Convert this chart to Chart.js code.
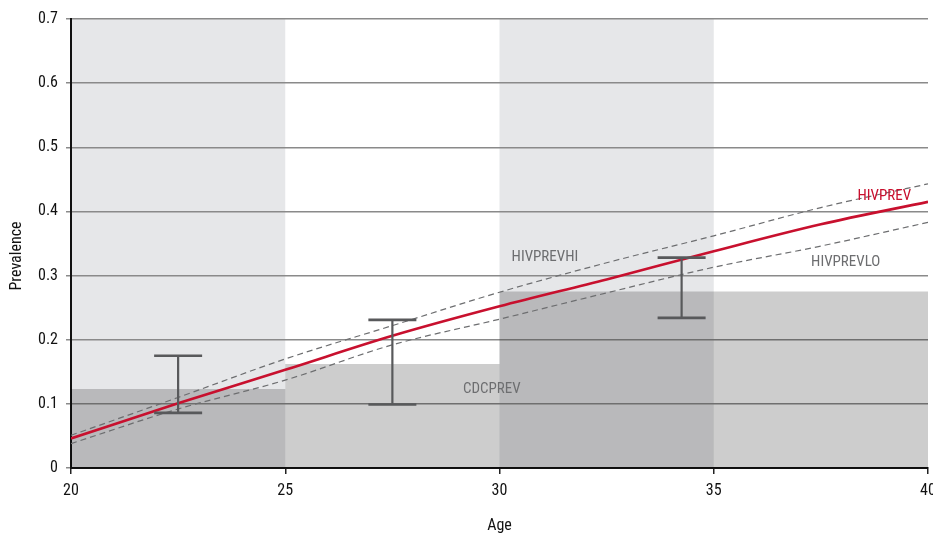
<!DOCTYPE html>
<html>
<head>
<meta charset="utf-8">
<script src="https://cdn.jsdelivr.net/npm/chart.js@4/dist/chart.umd.min.js"></script>
<style>
  html, body { margin: 0; padding: 0; background: #fff; }
  #wrap { width: 933px; height: 534px; }
</style>
</head>
<body>
<div id="wrap"><canvas id="prevChart" width="933" height="534"></canvas></div>
<script>
// model curves, every 2.5 years
const ages = [20, 22.5, 25, 27.5, 30, 32.5, 35, 37.5, 40];
const hivPrev = [0.046, 0.101, 0.153, 0.206, 0.252, 0.294, 0.338, 0.380, 0.415];
const hivPrevHi = [0.051, 0.110, 0.170, 0.222, 0.274, 0.320, 0.362, 0.406, 0.443];
const hivPrevLo = [0.038, 0.092, 0.137, 0.192, 0.232, 0.273, 0.313, 0.346, 0.383];

// CDC prevalence by 5-year age group
const cdcGroupStart = [20, 25, 30, 35];
const cdcGroupEnd = 40;
const cdcPrev = [0.123, 0.162, 0.275, 0.275];

// survey estimates with intervals
const surveyAge = [22.5, 27.5, 34.25];
const surveyLo = [0.086, 0.099, 0.234];
const surveyHi = [0.175, 0.231, 0.328];

// shaded age bands
const bandStart = [20, 30];
const bandEnd = [25, 35];

const yTicks = [0, 0.1, 0.2, 0.3, 0.4, 0.5, 0.6, 0.7];
const xTicks = [20, 25, 30, 35, 40];

const FONT = "'Liberation Sans Narrow', 'Roboto Condensed', 'Arial Narrow', Roboto, sans-serif";
const RED = '#c8102e';
const DARK = '#58595b';
const GREY_TEXT = '#6d6e70';

Chart.defaults.font.family = FONT;
Chart.defaults.font.size = 16;
Chart.defaults.color = '#111';

const toPoints = (xs, ys) => xs.map((x, i) => ({ x: x, y: ys[i] }));

// step outline for the CDC bars: each group keeps its value up to the next edge
const cdcPoints = [];
cdcGroupStart.forEach((s, i) => {
  const e = i + 1 < cdcGroupStart.length ? cdcGroupStart[i + 1] : cdcGroupEnd;
  cdcPoints.push({ x: s, y: cdcPrev[i] });
  cdcPoints.push({ x: e, y: cdcPrev[i] });
});

const bandsPlugin = {
  id: 'bands',
  beforeDraw(chart) {
    const { ctx, chartArea, scales } = chart;
    ctx.save();
    ctx.fillStyle = '#e6e7e9';
    bandStart.forEach((s, i) => {
      const x0 = scales.x.getPixelForValue(s);
      const x1 = scales.x.getPixelForValue(bandEnd[i]);
      ctx.fillRect(x0, chartArea.top, x1 - x0, chartArea.bottom - chartArea.top);
    });
    ctx.restore();
  }
};

const errorBarsPlugin = {
  id: 'errorBars',
  afterDatasetsDraw(chart) {
    const { ctx, scales } = chart;
    ctx.save();
    ctx.strokeStyle = DARK;
    surveyAge.forEach((a, i) => {
      const x = scales.x.getPixelForValue(a);
      const yLo = scales.y.getPixelForValue(surveyLo[i]);
      const yHi = scales.y.getPixelForValue(surveyHi[i]);
      ctx.lineWidth = 2.2;
      ctx.beginPath();
      ctx.moveTo(x, yLo);
      ctx.lineTo(x, yHi);
      ctx.stroke();
      ctx.lineWidth = 2.6;
      ctx.beginPath();
      ctx.moveTo(x - 24, yLo);
      ctx.lineTo(x + 24, yLo);
      ctx.moveTo(x - 24, yHi);
      ctx.lineTo(x + 24, yHi);
      ctx.stroke();
    });
    ctx.restore();
  }
};

// series names written next to the curves
const seriesLabels = [
  { text: 'HIVPREVHI', age: 31.06, value: 0.329, color: GREY_TEXT },
  { text: 'CDCPREV', age: 29.82, value: 0.123, color: GREY_TEXT },
  { text: 'HIVPREV', age: 38.98, value: 0.423, color: RED },
  { text: 'HIVPREVLO', age: 38.08, value: 0.321, color: GREY_TEXT }
];

const textPlugin = {
  id: 'texts',
  afterDraw(chart) {
    const { ctx, scales, chartArea } = chart;
    ctx.save();
    ctx.textAlign = 'center';
    ctx.textBaseline = 'middle';
    ctx.font = '15px ' + FONT;
    seriesLabels.forEach(l => {
      ctx.fillStyle = l.color;
      ctx.fillText(l.text, scales.x.getPixelForValue(l.age), scales.y.getPixelForValue(l.value));
    });
    ctx.fillStyle = '#111';
    ctx.font = '16px ' + FONT;
    ctx.fillText('Age', (chartArea.left + chartArea.right) / 2, 526);
    ctx.translate(17, 256);
    ctx.rotate(-Math.PI / 2);
    ctx.fillText('Prevalence', 0, 0);
    ctx.restore();
  }
};

const ctx = document.getElementById('prevChart').getContext('2d');
new Chart(ctx, {
  type: 'line',
  data: {
    datasets: [
      {
        label: 'HIVPREV',
        data: toPoints(ages, hivPrev),
        borderColor: RED,
        borderWidth: 2.6,
        pointRadius: 0,
        cubicInterpolationMode: 'monotone',
        order: 1
      },
      {
        label: 'HIVPREVHI',
        data: toPoints(ages, hivPrevHi),
        borderColor: '#6d6e70',
        borderWidth: 1.2,
        borderDash: [6, 4],
        pointRadius: 0,
        cubicInterpolationMode: 'monotone',
        order: 2
      },
      {
        label: 'HIVPREVLO',
        data: toPoints(ages, hivPrevLo),
        borderColor: '#6d6e70',
        borderWidth: 1.2,
        borderDash: [6, 4],
        pointRadius: 0,
        cubicInterpolationMode: 'monotone',
        order: 3
      },
      {
        label: 'CDCPREV',
        data: cdcPoints,
        borderWidth: 0,
        borderColor: 'rgba(0,0,0,0)',
        backgroundColor: 'rgba(0,0,0,0.195)',
        fill: 'origin',
        pointRadius: 0,
        order: 4
      }
    ]
  },
  options: {
    responsive: false,
    animation: false,
    layout: { padding: { left: 0, right: 5, top: 19, bottom: 0 } },
    plugins: {
      legend: { display: false },
      tooltip: { enabled: false }
    },
    scales: {
      x: {
        type: 'linear',
        min: 20,
        max: 40,
        afterBuildTicks(scale) { scale.ticks = xTicks.map(v => ({ value: v })); },
        afterFit(scale) {
          scale.height = 66;
          scale.paddingLeft = 0;
          scale.paddingRight = 0;
        },
        ticks: { padding: 7, color: '#111', maxRotation: 0, autoSkip: false },
        grid: { drawOnChartArea: false, drawTicks: true, tickLength: 6, color: '#222', lineWidth: 1.5 },
        border: { color: '#111', width: 2 }
      },
      y: {
        min: 0,
        max: 0.7,
        afterBuildTicks(scale) { scale.ticks = yTicks.map(v => ({ value: v })); },
        afterFit(scale) {
          scale.width = 71;
          scale.paddingTop = 0;
          scale.paddingBottom = 0;
        },
        ticks: {
          padding: 8,
          color: '#111',
          callback: v => (v === 0 ? '0' : v.toFixed(1))
        },
        grid: { color: '#8a8a8a', lineWidth: 1.5, tickLength: 5 },
        border: { color: '#111', width: 2 }
      }
    }
  },
  plugins: [bandsPlugin, errorBarsPlugin, textPlugin]
});
</script>
</body>
</html>
